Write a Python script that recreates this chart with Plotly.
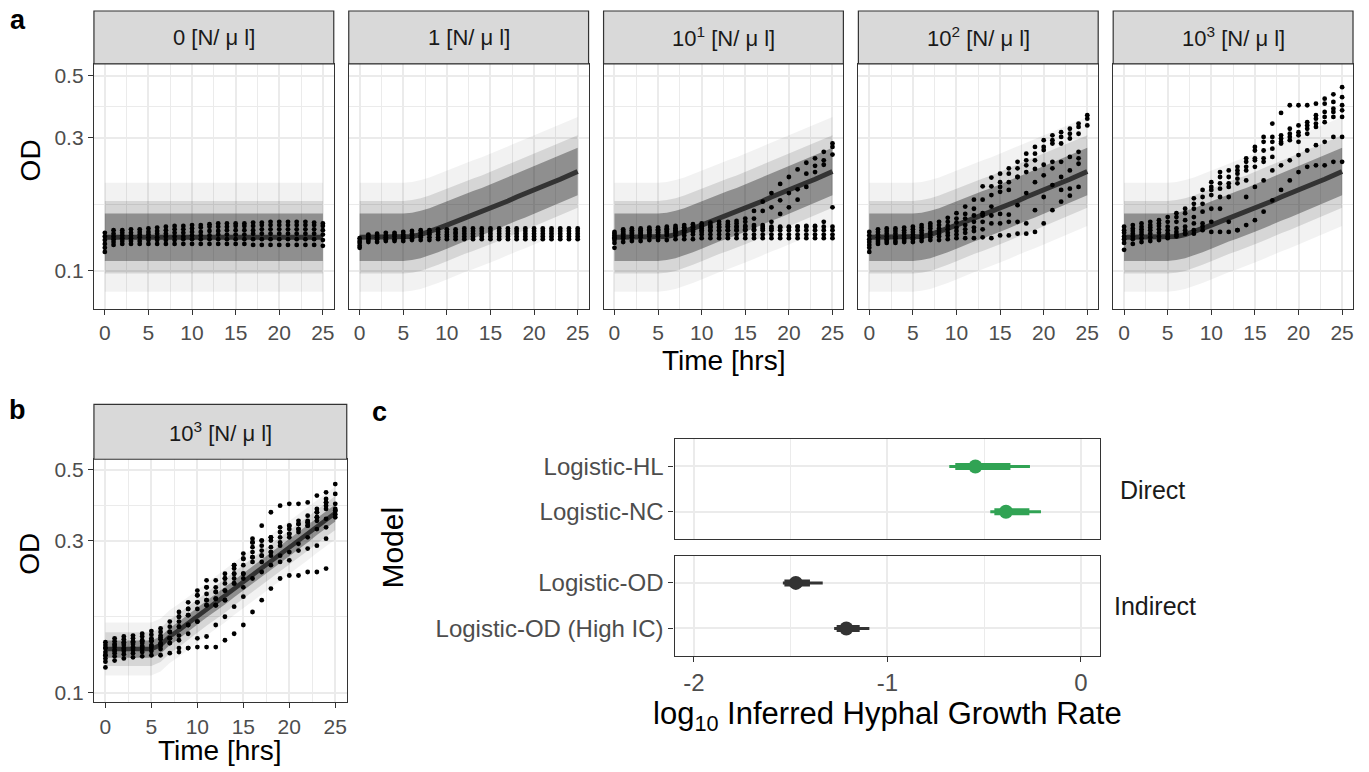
import plotly.graph_objects as go

W, H = 1369, 772
OFF = 8                      # default page margin of the html body
FW, FH = W - OFF, H - OFF    # figure size so that the page is exactly W x H
def X(px): return (px - OFF) / FW
def Y(py): return 1 - (py - OFF) / FH

FONT = "Liberation Sans"
times = list(range(26))

# ---------------- panel a data ----------------
dose_labels = ["0 [N/ μ l]", "1 [N/ μ l]", "10<sup>1</sup> [N/ μ l]",
               "10<sup>2</sup> [N/ μ l]", "10<sup>3</sup> [N/ μ l]"]

flat_med = [0.132, 0.132, 0.132, 0.132, 0.132, 0.132, 0.132, 0.132, 0.132, 0.132,
            0.132, 0.132, 0.132, 0.132, 0.132, 0.132, 0.132, 0.132, 0.132, 0.132,
            0.132, 0.132, 0.132, 0.132, 0.132, 0.132]
grow_med = [0.132, 0.132, 0.132, 0.132, 0.132, 0.132, 0.133, 0.135, 0.138, 0.142,
            0.146, 0.150, 0.155, 0.159, 0.163, 0.168, 0.173, 0.178, 0.184, 0.189,
            0.195, 0.201, 0.207, 0.213, 0.220, 0.227]
# half widths of the 50/80/95 % bands, log10 units (dark, mid, outer)
band_w_a = [0.085, 0.13, 0.195]

od_dose0 = [
    [0.137,0.140,0.140,0.141,0.141,0.142,0.143,0.144,0.145,0.145,0.146,0.146,0.147,0.148,0.148,0.148,0.148,0.149,0.149,0.150,0.150,0.150,0.150,0.150,0.149,0.148],
    [0.133,0.136,0.137,0.137,0.138,0.138,0.139,0.140,0.141,0.141,0.142,0.143,0.144,0.144,0.144,0.145,0.145,0.145,0.146,0.146,0.146,0.146,0.146,0.146,0.146,0.145],
    [0.129,0.133,0.134,0.134,0.135,0.135,0.136,0.136,0.137,0.137,0.138,0.138,0.139,0.139,0.140,0.140,0.140,0.140,0.141,0.141,0.141,0.141,0.141,0.141,0.141,0.140],
    [0.125,0.130,0.131,0.131,0.132,0.132,0.132,0.133,0.133,0.133,0.134,0.134,0.134,0.135,0.135,0.135,0.135,0.136,0.136,0.136,0.136,0.136,0.136,0.136,0.136,0.135],
    [0.121,0.127,0.128,0.128,0.128,0.129,0.129,0.129,0.129,0.130,0.130,0.130,0.130,0.130,0.130,0.130,0.130,0.130,0.130,0.130,0.130,0.130,0.130,0.130,0.130,0.129],
    [0.117,0.124,0.125,0.125,0.125,0.125,0.125,0.125,0.125,0.125,0.125,0.125,0.125,0.125,0.125,0.125,0.125,0.124,0.124,0.124,0.124,0.124,0.124,0.124,0.124,0.123],
]
od_dose1 = [
    [0.131,0.135,0.136,0.137,0.137,0.138,0.139,0.140,0.140,0.141,0.141,0.141,0.142,0.142,0.142,0.142,0.142,0.142,0.142,0.142,0.142,0.142,0.142,0.142,0.142,0.142],
    [0.128,0.133,0.134,0.134,0.135,0.135,0.136,0.137,0.137,0.138,0.138,0.138,0.139,0.139,0.139,0.139,0.139,0.139,0.139,0.139,0.139,0.139,0.139,0.139,0.139,0.139],
    [0.126,0.131,0.132,0.132,0.133,0.133,0.134,0.134,0.135,0.135,0.135,0.136,0.136,0.136,0.136,0.136,0.136,0.136,0.136,0.136,0.136,0.136,0.136,0.136,0.136,0.136],
    [0.123,0.129,0.130,0.130,0.130,0.131,0.131,0.132,0.132,0.132,0.133,0.133,0.133,0.133,0.133,0.133,0.133,0.133,0.133,0.133,0.133,0.133,0.133,0.133,0.133,0.133],
    [0.121,0.127,0.127,0.128,0.128,0.128,0.129,0.129,0.129,0.130,0.130,0.130,0.130,0.130,0.130,0.130,0.130,0.130,0.130,0.130,0.130,0.130,0.130,0.130,0.130,0.130],
]
od_dose10 = [
    [0.136,0.139,0.140,0.140,0.141,0.141,0.142,0.142,0.143,0.143,0.144,0.144,0.144,0.144,0.144,0.144,0.144,0.144,0.144,0.144,0.144,0.144,0.144,0.144,0.144,0.144],
    [0.131,0.135,0.136,0.136,0.137,0.137,0.138,0.138,0.139,0.139,0.140,0.140,0.140,0.140,0.140,0.140,0.140,0.140,0.140,0.140,0.140,0.140,0.140,0.140,0.140,0.140],
    [0.126,0.131,0.132,0.132,0.133,0.133,0.134,0.134,0.134,0.135,0.135,0.135,0.135,0.135,0.135,0.135,0.135,0.135,0.135,0.135,0.135,0.135,0.135,0.135,0.135,0.135],
    [0.121,0.127,0.128,0.128,0.129,0.129,0.129,0.130,0.130,0.130,0.131,0.131,0.131,0.131,0.131,0.131,0.131,0.131,0.131,0.131,0.131,0.131,0.131,0.131,0.131,0.131],
    [0.138,0.141,0.142,0.142,0.143,0.143,0.144,0.145,0.146,0.147,0.148,0.149,0.150,0.150,0.151,0.154,0.164,0.177,0.190,0.205,0.217,0.231,0.244,0.253,0.267,0.286],
    [0.134,0.138,0.139,0.139,0.140,0.140,0.141,0.142,0.143,0.144,0.145,0.146,0.147,0.147,0.148,0.150,0.154,0.164,0.169,0.179,0.190,0.196,0.223,0.238,0.249,0.278],
    [0.132,0.136,0.137,0.137,0.138,0.138,0.139,0.140,0.140,0.141,0.142,0.143,0.143,0.144,0.144,0.145,0.146,0.146,0.150,0.160,0.169,0.180,0.200,0.226,0.240,0.261],
    [0.129,0.133,0.134,0.134,0.135,0.135,0.136,0.137,0.137,0.138,0.138,0.139,0.139,0.140,0.140,0.141,0.141,0.142,0.142,0.143,0.143,0.144,0.145,0.145,0.150,0.169],
]
od_dose100 = [
    [0.138,0.141,0.142,0.142,0.143,0.144,0.146,0.148,0.150,0.155,0.161,0.170,0.180,0.201,0.216,0.223,0.233,0.246,0.263,0.278,0.294,0.306,0.314,0.323,0.337,0.361],
    [0.134,0.138,0.139,0.139,0.140,0.141,0.143,0.145,0.146,0.150,0.154,0.160,0.167,0.180,0.201,0.208,0.223,0.233,0.249,0.263,0.278,0.294,0.302,0.310,0.328,0.351],
    [0.130,0.135,0.136,0.136,0.137,0.138,0.140,0.142,0.142,0.145,0.149,0.154,0.158,0.161,0.187,0.200,0.208,0.217,0.239,0.249,0.271,0.286,0.286,0.298,0.310,0.332],
    [0.127,0.132,0.133,0.133,0.134,0.135,0.137,0.138,0.139,0.141,0.143,0.146,0.150,0.158,0.170,0.192,0.195,0.217,0.226,0.232,0.240,0.246,0.246,0.256,0.267,None],
    [0.124,0.129,0.130,0.131,0.131,0.132,0.134,0.135,0.136,0.137,0.139,0.141,0.143,0.150,0.158,0.160,0.159,0.172,0.190,0.208,0.220,0.233,0.217,0.229,0.253,None],
    [0.121,0.127,0.128,0.128,0.129,0.130,0.131,0.132,0.133,0.134,0.135,0.137,0.139,0.141,0.148,0.148,0.150,0.150,0.148,0.165,0.184,0.203,0.195,0.197,0.242,None],
    [0.117,0.125,0.126,0.126,0.127,0.127,0.128,0.129,0.129,0.130,0.131,0.131,0.131,0.132,0.131,0.134,0.134,0.136,0.136,0.138,0.148,0.165,0.177,0.186,0.200,None],
]
od_dose1000 = [
    [0.144,0.146,0.148,0.150,0.152,0.156,0.161,0.167,0.182,0.195,0.208,0.226,0.229,0.236,0.253,0.278,0.302,0.337,0.368,0.392,0.392,0.392,0.397,0.414,0.429,0.455],
    [0.140,0.142,0.144,0.146,0.148,0.150,0.156,0.161,0.174,0.184,0.200,0.217,0.217,0.229,0.246,0.270,0.290,0.302,0.306,0.323,0.332,0.341,0.361,0.397,0.403,0.419],
    [0.137,0.139,0.141,0.143,0.145,0.144,0.150,0.152,0.167,0.174,0.195,0.206,0.206,0.223,0.236,0.253,0.270,0.290,0.298,0.310,0.314,0.332,0.351,0.371,0.381,0.392],
    [0.133,0.136,0.138,0.140,0.141,0.140,0.142,0.144,0.156,0.163,0.187,0.197,0.200,0.214,0.229,0.249,0.253,0.274,0.290,0.302,0.306,0.323,0.337,0.356,0.371,0.376],
    [0.130,0.133,0.135,0.136,0.137,0.136,0.138,0.140,0.148,0.148,0.167,0.184,0.184,0.206,0.211,0.236,0.246,0.256,0.286,0.294,0.290,0.310,0.328,0.341,0.356,0.356],
    [0.126,0.130,0.131,0.132,0.133,0.133,0.135,0.136,0.136,0.140,0.138,0.167,0.150,0.140,0.184,0.200,0.211,0.229,0.239,0.249,0.260,0.270,0.282,0.290,0.302,0.302],
    [0.119,0.125,0.127,0.128,0.129,0.131,0.133,0.136,0.140,0.144,0.150,0.138,0.138,0.140,0.146,0.152,0.163,0.179,0.195,0.211,0.226,0.236,0.239,0.239,0.246,0.246],
]

# ---------------- panel b data ----------------
b_label = "10<sup>3</sup> [N/ μ l]"
b_med = [0.137, 0.137, 0.137, 0.137, 0.137, 0.137, 0.141, 0.150, 0.157, 0.165,
         0.174, 0.183, 0.192, 0.201, 0.212, 0.223, 0.234, 0.246, 0.259, 0.272,
         0.286, 0.300, 0.315, 0.332, 0.349, 0.366]
band_w_b = [0.027, 0.053, 0.083]
od_b = [
    [0.144,0.148,0.150,0.151,0.153,0.156,0.159,0.167,0.179,0.192,0.209,0.225,0.225,0.236,0.251,0.273,0.304,0.334,0.368,0.386,0.391,0.391,0.395,0.415,0.425,0.451],
    [0.141,0.145,0.147,0.148,0.150,0.152,0.155,0.161,0.173,0.183,0.202,0.214,0.214,0.228,0.245,0.263,0.296,0.300,0.307,0.330,0.334,0.346,0.359,0.377,0.405,0.420],
    [0.138,0.142,0.144,0.145,0.146,0.148,0.151,0.155,0.167,0.175,0.192,0.204,0.207,0.220,0.236,0.251,0.286,0.289,0.300,0.319,0.326,0.338,0.346,0.368,0.395,0.391],
    [0.134,0.139,0.141,0.142,0.143,0.145,0.147,0.148,0.161,0.163,0.183,0.195,0.197,0.209,0.228,0.236,0.276,0.279,0.286,0.307,0.315,0.326,0.342,0.355,0.386,0.377],
    [0.131,0.136,0.138,0.139,0.140,0.141,0.143,0.143,0.151,0.153,0.167,0.188,0.188,0.195,0.220,0.228,0.266,0.269,0.276,0.296,0.307,0.319,0.334,0.346,0.377,0.372],
    [0.128,0.133,0.135,0.136,0.137,0.138,0.140,0.143,0.138,0.138,0.148,0.150,0.163,0.173,0.186,0.200,0.228,0.239,0.251,0.257,0.260,0.279,0.283,0.289,0.304,None],
    [0.120,0.126,0.128,0.129,0.130,0.131,0.131,0.133,0.134,0.138,0.139,0.139,0.139,0.146,0.153,0.163,0.179,0.195,0.212,0.228,0.233,0.233,0.239,0.239,0.245,None],
    [0.125,0.130,0.132,0.133,0.134,0.135,0.137,0.148,0.146,0.163,0.167,0.188,0.188,0.195,0.220,0.214,0.257,0.257,0.269,0.269,0.276,0.293,0.307,0.326,0.330,0.355],
    [0.138,0.141,0.143,0.144,0.145,0.146,0.149,0.155,0.173,0.183,0.202,0.214,0.207,0.228,0.251,0.263,0.296,0.300,0.307,0.319,0.334,0.338,0.342,0.368,0.395,0.372],
    [0.131,0.135,0.137,0.138,0.139,0.140,0.142,0.148,0.161,0.175,0.192,0.195,0.197,0.209,0.236,0.236,0.266,0.269,0.276,0.289,0.315,0.326,0.334,0.355,0.351,0.363],
]

# ---------------- panel c data ----------------
direct_models = ["Logistic-HL", "Logistic-NC"]
direct_med = [-0.545, -0.387]
direct_lo66 = [-0.649, -0.447]
direct_hi66 = [-0.364, -0.266]
direct_lo95 = [-0.680, -0.468]
direct_hi95 = [-0.263, -0.206]

indirect_models = ["Logistic-OD", "Logistic-OD (High IC)"]
indirect_med = [-1.473, -1.212]
indirect_lo66 = [-1.532, -1.262]
indirect_hi66 = [-1.400, -1.143]
indirect_lo95 = [-1.540, -1.275]
indirect_hi95 = [-1.334, -1.093]

# ---------------- styles ----------------
BAND_COLORS = ["rgba(0,0,0,0.05)", "rgba(0,0,0,0.115)", "rgba(0,0,0,0.33)"]  # outer, mid, dark
GRID = "#ebebeb"
BORDER = "#333333"
TICKC = "#4d4d4d"
GREEN = "#31a354"
DARK = "#333333"

fig = go.Figure()

def axname(i):
    return ("x", "y") if i == 1 else (f"x{i}", f"y{i}")

def add_growth_panel(i, med, reps, widths, line_w, pt_size):
    xa, ya = axname(i)
    for w, col in zip(widths[::-1], BAND_COLORS):
        lower = [m / 10 ** w for m in med]
        upper = [m * 10 ** w for m in med]
        fig.add_trace(go.Scatter(x=times + times[::-1], y=upper + lower[::-1],
                                 fill="toself", fillcolor=col, mode="lines",
                                 line=dict(width=0), hoverinfo="skip",
                                 showlegend=False, xaxis=xa, yaxis=ya))
    fig.add_trace(go.Scatter(x=times, y=med, mode="lines",
                             line=dict(color=DARK, width=line_w),
                             showlegend=False, xaxis=xa, yaxis=ya))
    px, py = [], []
    for r in reps:
        for t, v in zip(times, r):
            if v is not None:
                px.append(t); py.append(v)
    fig.add_trace(go.Scatter(x=px, y=py, mode="markers",
                             marker=dict(color="black", size=pt_size),
                             showlegend=False, xaxis=xa, yaxis=ya))

facet_meds = [flat_med, grow_med, grow_med, grow_med, grow_med]
facet_reps = [od_dose0, od_dose1, od_dose10, od_dose100, od_dose1000]
for k in range(5):
    add_growth_panel(k + 1, facet_meds[k], facet_reps[k], band_w_a, 5, 4.8)
add_growth_panel(6, b_med, od_b, band_w_b, 4.5, 4.8)

# panel c
def add_intervals(i, models, med, lo66, hi66, lo95, hi95, color):
    xa, ya = axname(i)
    for m, md, a, b, c, d in zip(models, med, lo66, hi66, lo95, hi95):
        fig.add_trace(go.Scatter(x=[c, d], y=[m, m], mode="lines",
                                 line=dict(color=color, width=3),
                                 showlegend=False, xaxis=xa, yaxis=ya))
        fig.add_trace(go.Scatter(x=[a, b], y=[m, m], mode="lines",
                                 line=dict(color=color, width=7),
                                 showlegend=False, xaxis=xa, yaxis=ya))
        fig.add_trace(go.Scatter(x=[md], y=[m], mode="markers",
                                 marker=dict(color=color, size=14),
                                 showlegend=False, xaxis=xa, yaxis=ya))

add_intervals(7, direct_models, direct_med, direct_lo66, direct_hi66,
              direct_lo95, direct_hi95, GREEN)
add_intervals(8, indirect_models, indirect_med, indirect_lo66, indirect_hi66,
              indirect_lo95, indirect_hi95, DARK)

# ---------------- layout ----------------
layout = dict(width=FW, height=FH, margin=dict(l=0, r=0, t=0, b=0),
              paper_bgcolor="white", plot_bgcolor="white",
              font=dict(family=FONT, color="black"), showlegend=False)

a_x = [(94, 334), (349, 589), (604, 844), (859, 1099), (1114, 1354)]
a_y = (63, 309)
b_x, b_y = (94, 347), (460, 704)
c_x = (675, 1101)
c_y1, c_y2 = (440, 540), (556.7, 657.3)

def base_axis():
    return dict(showline=True, mirror=True, linecolor=BORDER, linewidth=1.2,
                showgrid=True, gridcolor=GRID, gridwidth=1.8, zeroline=False,
                tickfont=dict(family=FONT, size=21, color=TICKC),
                ticks="outside", ticklen=5, tickwidth=1.2, tickcolor=BORDER)

def time_axis(dom, anchor):
    d = base_axis()
    d.update(domain=[X(dom[0]), X(dom[1])], anchor=anchor, range=[-1.25, 26.25],
             tickmode="array", tickvals=[0, 5, 10, 15, 20, 25],
             minor=dict(tickvals=[2.5, 7.5, 12.5, 17.5, 22.5], showgrid=True,
                        gridcolor=GRID, gridwidth=1.0))
    return d

def od_axis(dom, anchor, rng, labels):
    d = base_axis()
    d.update(domain=[Y(dom[1]), Y(dom[0])], anchor=anchor, type="log", range=rng,
             tickmode="array", tickvals=[0.1, 0.3, 0.5], ticktext=["0.1", "0.3", "0.5"],
             minor=dict(tickvals=[0.1732, 0.3873], showgrid=True,
                        gridcolor=GRID, gridwidth=1.0))
    if not labels:
        d.update(showticklabels=False, ticks="")
    return d

for k in range(5):
    i = k + 1
    xk = "xaxis" if i == 1 else f"xaxis{i}"
    yk = "yaxis" if i == 1 else f"yaxis{i}"
    xa, ya = axname(i)
    layout[xk] = time_axis(a_x[k], ya)
    layout[yk] = od_axis(a_y, xa, [-1.1355, -0.2582], k == 0)

layout["xaxis6"] = time_axis(b_x, "y6")
layout["yaxis6"] = od_axis(b_y, "x6", [-1.0303, -0.2678], True)

def c_xaxis(dom_y_anchor, labels):
    d = base_axis()
    d.update(domain=[X(c_x[0]), X(c_x[1])], anchor=dom_y_anchor, range=[-2.1, 0.1],
             tickmode="array", tickvals=[-2, -1, 0], ticktext=["-2", "-1", "0"],
             tickfont=dict(family=FONT, size=24, color=TICKC),
             minor=dict(tickvals=[-1.5, -0.5], showgrid=True, gridcolor=GRID, gridwidth=1.0))
    if not labels:
        d.update(showticklabels=False, ticks="")
    return d

def c_yaxis(dom, anchor, cats):
    d = base_axis()
    d.update(domain=[Y(dom[1]), Y(dom[0])], anchor=anchor, type="category",
             categoryorder="array", categoryarray=cats, range=[-0.6, 1.6],
             tickfont=dict(family=FONT, size=24, color=TICKC))
    return d

layout["xaxis7"] = c_xaxis("y7", False)
layout["yaxis7"] = c_yaxis(c_y1, "x7", direct_models[::-1])
layout["xaxis8"] = c_xaxis("y8", True)
layout["yaxis8"] = c_yaxis(c_y2, "x8", indirect_models[::-1])

shapes, annotations = [], []

def strip(x0, x1, y0, y1, text):
    shapes.append(dict(type="rect", xref="paper", yref="paper",
                       x0=X(x0), x1=X(x1), y0=Y(y1), y1=Y(y0),
                       fillcolor="#d9d9d9", line=dict(color=BORDER, width=1.2), layer="above"))
    annotations.append(dict(xref="paper", yref="paper", x=X((x0 + x1) / 2), y=Y((y0 + y1) / 2),
                            text=text, showarrow=False, xanchor="center", yanchor="middle",
                            font=dict(family=FONT, size=22, color="#1a1a1a")))

for k in range(5):
    strip(a_x[k][0], a_x[k][1], 10, 63, dose_labels[k])
strip(b_x[0], b_x[1], 405, 460, b_label)

def label(x, y, text, size, angle=0, bold=False, color="black"):
    annotations.append(dict(xref="paper", yref="paper", x=X(x), y=Y(y),
                            text=f"<b>{text}</b>" if bold else text, showarrow=False,
                            xanchor="center", yanchor="middle", textangle=angle,
                            font=dict(family=FONT, size=size, color=color)))

label(724, 361, "Time [hrs]", 28)
label(30, 160, "OD", 28, angle=-90)
label(220, 752, "Time [hrs]", 28)
label(30, 555, "OD", 28, angle=-90)
label(888, 718, "log<sub>10</sub> Inferred Hyphal Growth Rate", 31)
label(393, 549, "Model", 30, angle=-90)
label(1153, 491, "Direct", 25, color="#1a1a1a")
label(1156, 607, "Indirect", 25, color="#1a1a1a")
label(18, 19, "a", 27, bold=True)
label(18, 411, "b", 27, bold=True)
label(380, 413, "c", 27, bold=True)

layout["shapes"] = shapes
layout["annotations"] = annotations
fig.update_layout(**layout)
fig.write_html("out.html")
